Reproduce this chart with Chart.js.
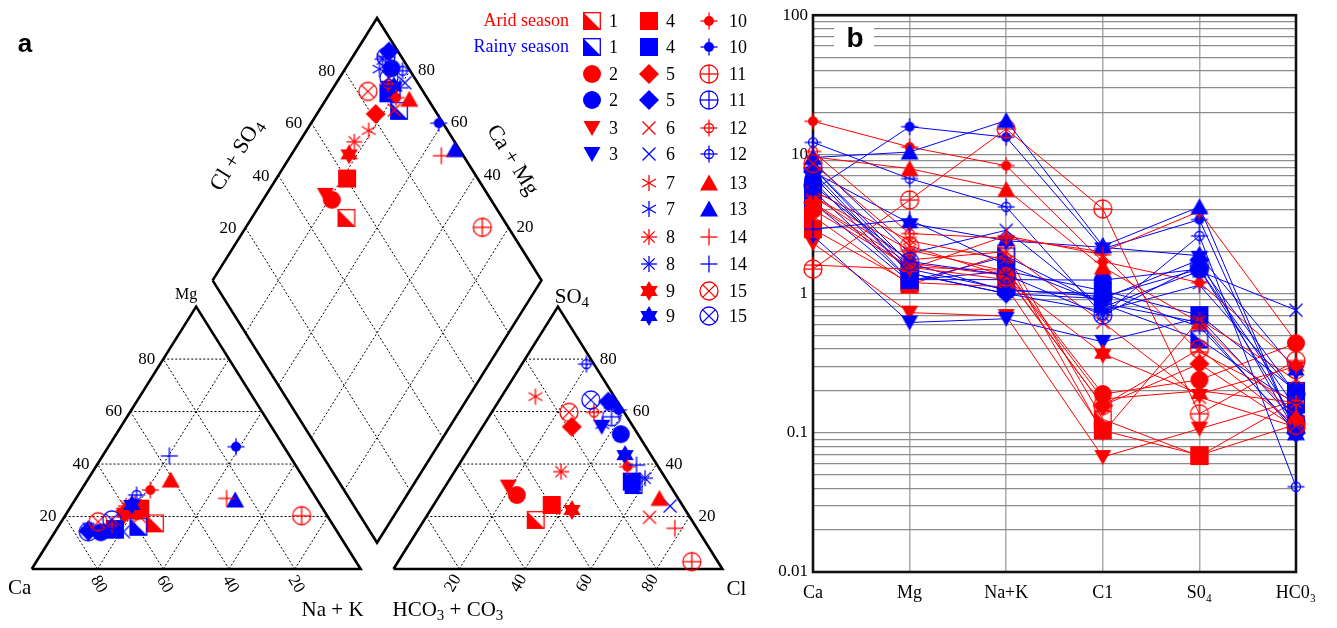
<!DOCTYPE html>
<html>
<head>
<meta charset="utf-8">
<script src="https://cdn.jsdelivr.net/npm/chart.js@4.4.1/dist/chart.umd.min.js"></script>
<style>
  body { margin: 0; background: #fff; width: 1337px; height: 628px; overflow: hidden; position: relative; }
  #piper { position: absolute; left: 0; top: 0; }
  #schoeller { position: absolute; left: 776px; top: 0; }
</style>
</head>
<body>
<canvas id="piper" width="776" height="628"></canvas>
<canvas id="schoeller" width="561" height="628"></canvas>
<script>
// Piper (a) + Schoeller (b) diagrams, arid vs rainy season
const samples = ['1', '2', '3', '4', '5', '6', '7', '8', '9', '10', '11', '12', '13', '14', '15'];
const ions = ['Ca', 'Mg', 'Na+K', 'C1', 'S0₄', 'HC0₃'];
const yTickValues = [0.01, 0.1, 1, 10, 100];
const yTickLabels = ['0.01', '0.1', '1', '10', '100'];
const pctTicks = [20, 40, 60, 80];

// Piper percentages (meq %)
const aridMgPct   = [17.4, 22, 20, 23, 22, 20, 25, 24, 21.5, 30.1, 20.3, 17, 33.9, 26.9, 18];
const aridNaKPct  = [28.8, 20.9, 18, 21.5, 17.9, 22.8, 18.9, 16.7, 17.5, 21, 71.9, 15.9, 25.3, 45.8, 11.2];
const aridSO4Pct  = [18.7, 28.2, 31.4, 24.4, 54.2, 19.7, 65.7, 37.1, 22.5, 39, 2.8, 59.7, 26.9, 15.5, 59.7];
const aridClPct   = [33.9, 23.4, 19.2, 35.9, 27.1, 68, 10.3, 32.4, 43, 51.6, 89.3, 31.1, 67.4, 77.8, 23.5];
const rainyMgPct  = [16.1, 14, 16, 15, 14.5, 14.2, 15, 15.5, 24.4, 46.6, 14.2, 28.2, 26.3, 43.1, 18.7];
const rainyNaKPct = [24.4, 14, 17, 17.8, 10, 20.8, 10.5, 9.5, 18.2, 38.8, 10.1, 17.8, 48.7, 20.3, 15];
const rainySO4Pct = [32, 51.4, 54.2, 33.3, 63.8, 24, 55, 34.6, 43.4, 60.6, 58, 78.1, 64, 39.6, 64.4];
const rainyClPct  = [57, 43.4, 36.2, 55.8, 33.4, 72.1, 36, 59.2, 48.7, 38.1, 37.3, 19.6, 34.5, 54.1, 27.8];

// Schoeller concentrations (meq/L)
const aridCa    = [3.6, 4.0, 2.3, 2.9, 4.5, 5.0, 5.5, 5.0, 4.4, 17.3, 1.5, 10.5, 9.6, 1.6, 8.6];
const aridMg    = [1.16, 1.55, 0.73, 1.2, 1.65, 1.75, 2.4, 2.05, 1.55, 11.3, 4.7, 2.7, 7.9, 1.5, 2.2];
const aridNaK   = [1.93, 1.47, 0.69, 1.12, 1.35, 2.0, 1.75, 1.45, 1.26, 8.3, 15.2, 2.5, 5.6, 2.6, 1.33];
const aridCl    = [0.125, 0.19, 0.067, 0.104, 0.157, 0.62, 0.10, 0.175, 0.37, 1.7, 4.06, 2.0, 1.55, 1.9, 0.157];
const aridSO4   = [0.068, 0.24, 0.107, 0.069, 0.313, 0.18, 0.65, 0.2, 0.19, 1.2, 0.137, 3.9, 0.62, 0.38, 0.40];
const aridHCO3  = [0.17, 0.44, 0.17, 0.115, 0.108, 0.11, 0.24, 0.165, 0.30, 0.3, 0.33, 0.45, 0.13, 0.165, 0.113];
const rainyCa   = [4.5, 6.5, 2.6, 5.5, 7.5, 8.9, 7.0, 8.0, 7.5, 5.5, 8.0, 12.2, 9.5, 2.9, 6.0];
const rainyMg   = [1.22, 1.26, 0.62, 1.25, 1.4, 1.95, 1.4, 1.65, 3.2, 15.8, 1.5, 6.7, 10.4, 3.4, 1.7];
const rainyNaK  = [1.85, 1.26, 0.66, 1.45, 1.0, 2.85, 1.0, 1.05, 2.4, 13.3, 1.07, 4.2, 17.5, 1.6, 1.36];
const rainyCl   = [0.84, 1.25, 0.45, 1.05, 0.92, 0.8, 0.75, 1.0, 2.15, 2.1, 0.95, 0.7, 2.2, 0.85, 0.7];
const rainySO4  = [0.47, 1.5, 0.67, 0.70, 1.75, 1.45, 1.15, 0.58, 1.87, 3.4, 1.5, 2.6, 4.2, 0.62, 1.6];
const rainyHCO3 = [0.16, 0.15, 0.12, 0.2, 0.1, 0.76, 0.19, 0.105, 0.28, 0.1, 0.12, 0.041, 0.1, 0.1, 0.19];

const RED = '#ff0000';
const BLUE = '#0000ff';
const SERIF = '"Liberation Serif", "DejaVu Serif", serif';
const H = Math.sqrt(3) / 2;
const OFF = 110; // anion triangle starts after a 10-unit gap

// ---------- marker glyphs (one small canvas per style / colour) ----------
function makeMarker(type, color) {
  const c = document.createElement('canvas');
  c.width = 26; c.height = 26;
  const g = c.getContext('2d');
  g.translate(13, 13);
  g.strokeStyle = color; g.fillStyle = color; g.lineWidth = 1.3;
  const line = (x1, y1, x2, y2) => { g.beginPath(); g.moveTo(x1, y1); g.lineTo(x2, y2); g.stroke(); };
  const poly = (pts) => { g.beginPath(); pts.forEach((p, i) => i ? g.lineTo(p[0], p[1]) : g.moveTo(p[0], p[1])); g.closePath(); g.fill(); };
  const circle = (r, fill) => { g.beginPath(); g.arc(0, 0, r, 0, Math.PI * 2); fill ? g.fill() : g.stroke(); };
  const spokes = (angles, len) => angles.forEach(a => {
    const dx = Math.cos(a * Math.PI / 180) * len, dy = Math.sin(a * Math.PI / 180) * len;
    line(-dx, -dy, dx, dy);
  });
  switch (type) {
    case 1: g.strokeRect(-8.3, -8.3, 16.6, 16.6); poly([[-9, -9], [9, 9], [-9, 9]]); break;
    case 2: circle(9, true); break;
    case 3: poly([[-8.5, -7], [8.5, -7], [0, 8]]); break;
    case 4: g.fillRect(-9, -9, 18, 18); break;
    case 5: poly([[0, -10], [10, 0], [0, 10], [-10, 0]]); break;
    case 6: line(-6.5, -6.5, 6.5, 6.5); line(-6.5, 6.5, 6.5, -6.5); break;
    case 7: spokes([90, 30, 150], 8); break;
    case 8: spokes([0, 45, 90, 135], 8); break;
    case 9:
      poly([[0, -10], [8.7, 5], [-8.7, 5]]);
      poly([[0, 10], [8.7, -5], [-8.7, -5]]);
      break;
    case 10: circle(5, true); line(-8.5, 0, 8.5, 0); line(0, -8.5, 0, 8.5); break;
    case 11: circle(9, false); line(-9, 0, 9, 0); line(0, -9, 0, 9); break;
    case 12: circle(4.5, false); line(-8.5, 0, 8.5, 0); line(0, -8.5, 0, 8.5); break;
    case 13: poly([[-9, 7.5], [9, 7.5], [0, -8.5]]); break;
    case 14: line(-8.5, 0, 8.5, 0); line(0, -8.5, 0, 8.5); break;
    case 15: circle(9, false); line(-6.4, -6.4, 6.4, 6.4); line(-6.4, 6.4, 6.4, -6.4); break;
  }
  return c;
}
const aridMarkers = samples.map((s, i) => makeMarker(i + 1, RED));
const rainyMarkers = samples.map((s, i) => makeMarker(i + 1, BLUE));

// text with "_d" subscripts
function rich(ctx, str, x, y, size, align) {
  const parts = str.split(/(_\d)/).filter(Boolean).map(p => p[0] === '_' ? { t: p[1], sub: true } : { t: p, sub: false });
  const fMain = size + 'px ' + SERIF, fSub = Math.round(size * 0.72) + 'px ' + SERIF;
  let w = 0;
  parts.forEach(p => { ctx.font = p.sub ? fSub : fMain; p.w = ctx.measureText(p.t).width; w += p.w; });
  let cx = align === 'center' ? x - w / 2 : align === 'right' ? x - w : x;
  ctx.textAlign = 'left'; ctx.textBaseline = 'middle';
  parts.forEach(p => { ctx.font = p.sub ? fSub : fMain; ctx.fillText(p.t, cx, y + (p.sub ? size * 0.28 : 0)); cx += p.w; });
}

// ---------- Piper geometry ----------
const cationXY = (mg, na) => ({ x: na + mg / 2, y: mg * H });
const anionXY = (so4, cl) => ({ x: OFF + cl + so4 / 2, y: so4 * H });
const diamondXY = (na, c) => { const s = OFF + c - na; return { x: na + s / 2, y: s * H }; };

const piperSets = [];
const frame = pts => ({ data: pts, showLine: true, borderColor: '#000', borderWidth: 2.6, borderJoinStyle: 'miter', pointRadius: 0, order: 200 });
const dashed = (a, b) => ({ data: [a, b], showLine: true, borderColor: '#000', borderWidth: 1, borderDash: [2, 2], pointRadius: 0, order: 300 });

piperSets.push(frame([{ x: 0, y: 0 }, { x: 100, y: 0 }, { x: 50, y: 100 * H }, { x: 0, y: 0 }]));
piperSets.push(frame([{ x: OFF, y: 0 }, { x: OFF + 100, y: 0 }, { x: OFF + 50, y: 100 * H }, { x: OFF, y: 0 }]));
piperSets.push(frame([diamondXY(0, 0), diamondXY(0, 100), diamondXY(100, 100), diamondXY(100, 0), diamondXY(0, 0)]));
[0, OFF].forEach(ox => pctTicks.forEach(t => {
  piperSets.push(dashed({ x: ox + t / 2, y: t * H }, { x: ox + 100 - t / 2, y: t * H }));
  piperSets.push(dashed({ x: ox + t, y: 0 }, { x: ox + t + (100 - t) / 2, y: (100 - t) * H }));
  piperSets.push(dashed({ x: ox + 100 - t, y: 0 }, { x: ox + (100 - t) / 2, y: (100 - t) * H }));
}));
pctTicks.forEach(t => {
  piperSets.push(dashed(diamondXY(0, t), diamondXY(100, t)));
  piperSets.push(dashed(diamondXY(t, 0), diamondXY(t, 100)));
});

samples.forEach((s, i) => {
  const seasons = [
    [aridMgPct, aridNaKPct, aridSO4Pct, aridClPct, aridMarkers],
    [rainyMgPct, rainyNaKPct, rainySO4Pct, rainyClPct, rainyMarkers]
  ];
  seasons.forEach(([mg, na, so4, cl, mk], k) => {
    piperSets.push({
      data: [cationXY(mg[i], na[i]), anionXY(so4[i], cl[i]), diamondXY(na[i], so4[i] + cl[i])],
      pointStyle: mk[i], pointRadius: 9, showLine: false, order: -(2 * i + k)
    });
  });
});

const legendRowY = [21, 47, 74, 100, 128, 154, 183, 209, 237, 264, 291, 316];
const legendCols = [
  { x: 592, tx: 609, from: 0, to: 3 },
  { x: 649, tx: 666, from: 3, to: 9 },
  { x: 709, tx: 729, from: 9, to: 15 }
];

const piperDecor = {
  id: 'piperDecor',
  afterDraw(chart) {
    const { ctx } = chart;
    const xs = chart.scales.x, ys = chart.scales.y;
    const P = (p) => [xs.getPixelForValue(p.x), ys.getPixelForValue(p.y)];
    ctx.save();
    ctx.fillStyle = '#000';
    pctTicks.forEach(t => {
      let [px, py] = P({ x: t / 2, y: t * H });
      rich(ctx, String(t), px - 8, py, 17, 'right');
      [px, py] = P({ x: OFF + 100 - t / 2, y: t * H });
      rich(ctx, String(t), px + 9, py, 17, 'left');
      [px, py] = P({ x: 100 - t, y: 0 });
      ctx.save(); ctx.translate(px - 3, py + 8); ctx.rotate(Math.PI / 3); rich(ctx, String(t), 0, 0, 17, 'left'); ctx.restore();
      [px, py] = P({ x: OFF + t, y: 0 });
      ctx.save(); ctx.translate(px - 2, py + 7); ctx.rotate(-Math.PI / 3); rich(ctx, String(t), 0, 0, 17, 'right'); ctx.restore();
      [px, py] = P(diamondXY(0, t));
      rich(ctx, String(t), px - 9, py + 1, 17, 'right');
      [px, py] = P(diamondXY(100 - t, 100));
      rich(ctx, String(t), px + 8, py, 17, 'left');
    });
    let [px, py] = P({ x: 50, y: 100 * H });
    rich(ctx, 'Mg', px - 10, py - 12, 16, 'center');
    [px, py] = P({ x: 0, y: 0 });
    rich(ctx, 'Ca', px - 12, py + 19, 21, 'center');
    [px, py] = P({ x: 100, y: 0 });
    rich(ctx, 'Na + K', px - 28, py + 41, 21, 'center');
    [px, py] = P({ x: OFF + 50, y: 100 * H });
    rich(ctx, 'SO_4', px + 14, py - 9, 21, 'center');
    [px, py] = P({ x: OFF + 100, y: 0 });
    rich(ctx, 'Cl', px + 14, py + 20, 21, 'center');
    [px, py] = P({ x: OFF, y: 0 });
    rich(ctx, 'HCO_3 + CO_3', px - 1, py + 41, 21, 'left');
    let d = diamondXY(0, 50);
    [px, py] = P(d);
    ctx.save(); ctx.translate(px - 58, py + 6); ctx.rotate(-58 * Math.PI / 180); rich(ctx, 'Cl + SO_4', 0, 0, 22, 'center'); ctx.restore();
    d = diamondXY(50, 100);
    [px, py] = P(d);
    ctx.save(); ctx.translate(px + 53, py + 11); ctx.rotate(58 * Math.PI / 180); rich(ctx, 'Ca + Mg', 0, 0, 22, 'center'); ctx.restore();

    ctx.font = 'bold 26px "Liberation Sans", Arial, sans-serif';
    ctx.textAlign = 'center'; ctx.textBaseline = 'middle';
    ctx.fillText('a', 25, 45);

    // legend
    ctx.fillStyle = RED; rich(ctx, 'Arid season', 569, legendRowY[0], 18, 'right');
    ctx.fillStyle = BLUE; rich(ctx, 'Rainy season', 569, legendRowY[1], 18, 'right');
    ctx.fillStyle = '#000';
    legendCols.forEach(col => {
      for (let j = col.from; j < col.to; j++) {
        const r = 2 * (j - col.from);
        [[aridMarkers, r], [rainyMarkers, r + 1]].forEach(([mk, row]) => {
          const yy = legendRowY[row];
          ctx.drawImage(mk[j], col.x - 13, yy - 13);
          rich(ctx, samples[j], col.tx, yy + 1, 18, 'left');
        });
      }
    });
    ctx.restore();
  }
};

new Chart(document.getElementById('piper'), {
  type: 'scatter',
  data: { datasets: piperSets },
  options: {
    responsive: false, animation: false, events: [],
    layout: { padding: 0, autoPadding: false },
    plugins: { legend: { display: false }, tooltip: { enabled: false } },
    scales: {
      x: { type: 'linear', display: false, min: -9.64, max: 226.3 },
      y: { type: 'linear', display: false, min: -19.47, max: 187.79 }
    }
  },
  plugins: [piperDecor]
});

// ---------- Schoeller ----------
const schoellerSets = [];
samples.forEach((s, i) => {
  [
    [[aridCa, aridMg, aridNaK, aridCl, aridSO4, aridHCO3], RED, aridMarkers],
    [[rainyCa, rainyMg, rainyNaK, rainyCl, rainySO4, rainyHCO3], BLUE, rainyMarkers]
  ].forEach(([cols, color, mk], k) => {
    schoellerSets.push({
      label: s,
      data: cols.map(a => a[i]),
      borderColor: color, borderWidth: 1,
      pointStyle: mk[i], pointRadius: 9,
      clip: false, order: -(2 * i + k)
    });
  });
});

const yTicks = [];
[0.01, 0.1, 1, 10].forEach(dec => { for (let k = 1; k < 10; k++) yTicks.push(+(k * dec).toPrecision(3)); });
yTicks.push(100);

const schoellerDecor = {
  id: 'schoellerDecor',
  beforeDatasetsDraw(chart) {
    const { ctx, chartArea: a } = chart;
    ctx.save();
    ctx.fillStyle = '#fff';
    ctx.fillRect(a.left + 21, a.top + 10, 40, 27);
    ctx.fillStyle = '#000';
    ctx.font = 'bold 28px "Liberation Sans", Arial, sans-serif';
    ctx.textAlign = 'center'; ctx.textBaseline = 'middle';
    ctx.fillText('b', a.left + 42, a.top + 24);
    ctx.strokeStyle = '#111'; ctx.lineWidth = 2.6;
    ctx.strokeRect(a.left, a.top, a.right - a.left, a.bottom - a.top);
    ctx.restore();
  }
};

new Chart(document.getElementById('schoeller'), {
  type: 'line',
  data: { labels: ions, datasets: schoellerSets },
  options: {
    responsive: false, animation: false, events: [],
    layout: { padding: { top: 15, right: 41, left: 0, bottom: 0 }, autoPadding: false },
    plugins: { legend: { display: false }, tooltip: { enabled: false } },
    scales: {
      x: {
        offset: false,
        grid: { color: '#ababab', lineWidth: 1.5, drawTicks: false },
        border: { display: false },
        ticks: { color: '#000', font: { family: SERIF, size: 18 }, padding: 10, maxRotation: 0, autoSkip: false },
        afterFit: s => { s.height = 56; }
      },
      y: {
        type: 'logarithmic', min: 0.01, max: 100,
        afterBuildTicks: s => { s.ticks = yTicks.map(v => ({ value: v })); },
        grid: { color: '#8c8c8c', lineWidth: 1.2, drawTicks: false },
        border: { display: false },
        ticks: {
          color: '#000', font: { family: SERIF, size: 17 }, padding: 5, autoSkip: false,
          callback: v => {
            const k = yTickValues.findIndex(t => Math.abs(t - v) < t * 1e-6);
            return k >= 0 ? yTickLabels[k] : '';
          }
        },
        afterFit: s => { s.width = 37; }
      }
    }
  },
  plugins: [schoellerDecor]
});
</script>
</body>
</html>
